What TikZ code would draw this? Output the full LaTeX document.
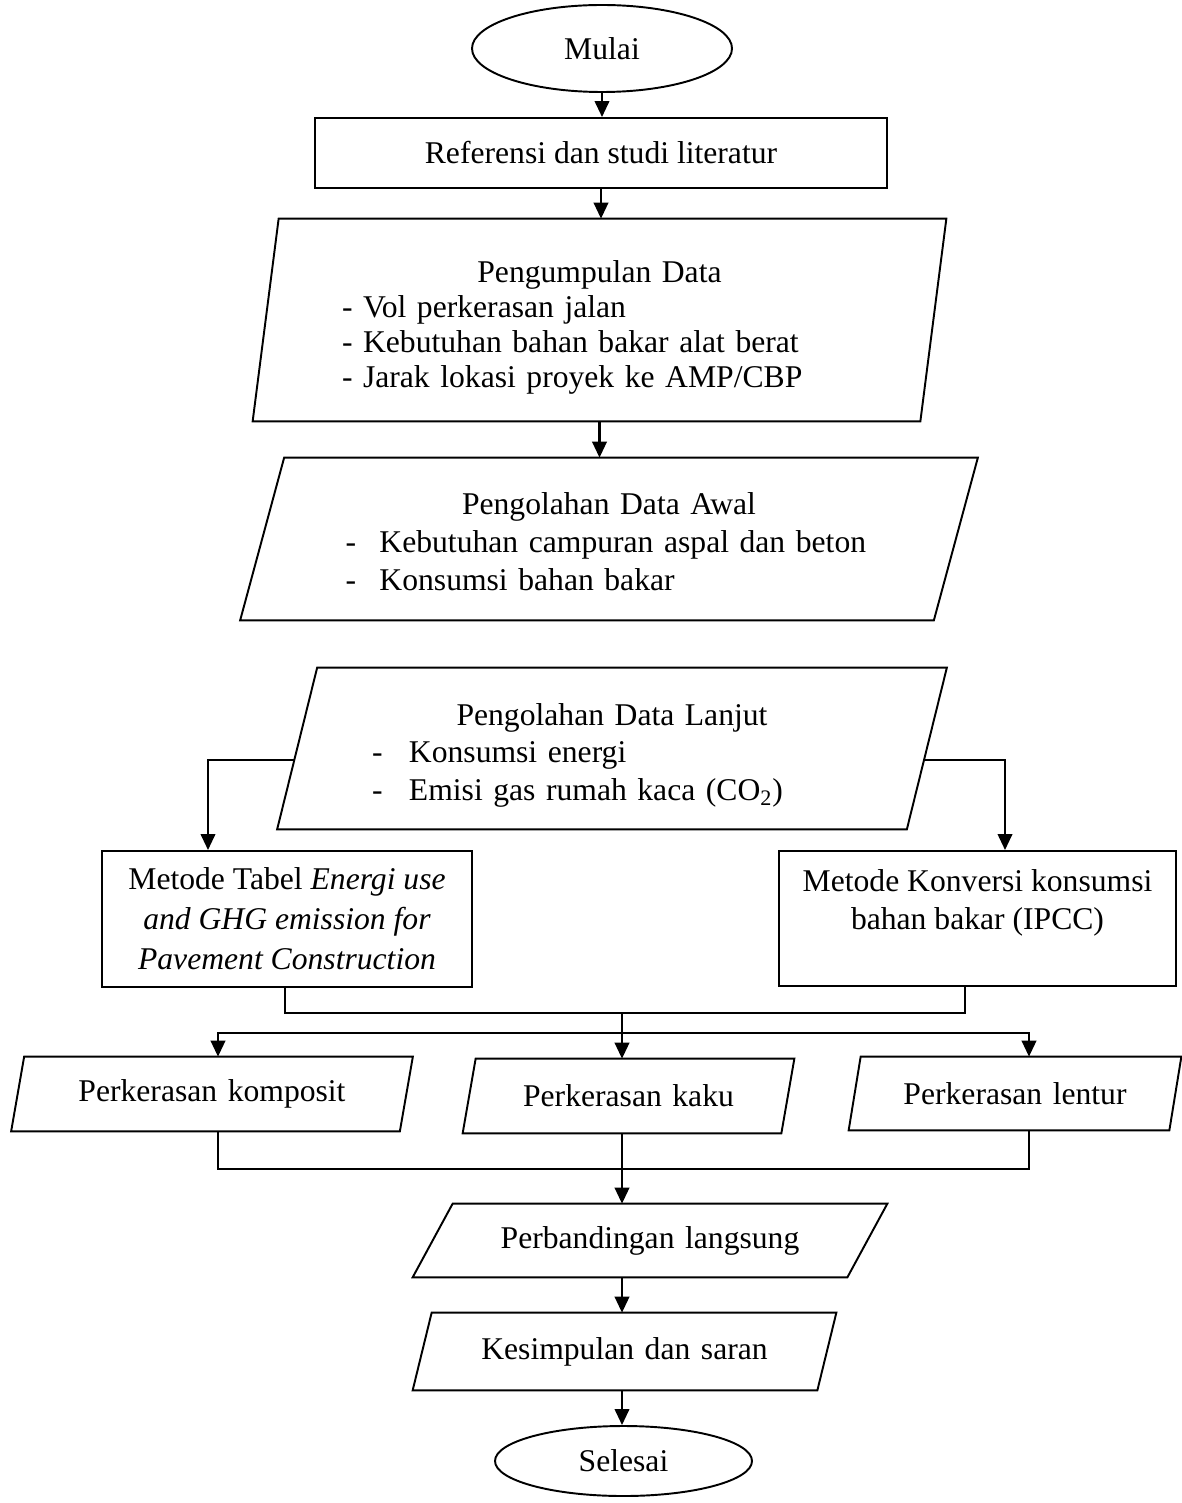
\documentclass[tikz,border=0pt]{standalone}
\usepackage{fontspec}
\setmainfont{Liberation Serif}
\usepackage{tikz}
\usetikzlibrary{arrows.meta, shapes.geometric}
\newcommand{\bodyfont}{\fontsize{18}{21.5}\selectfont}
\tikzset{
  terminal/.style={ellipse, draw, line width=1.1pt, inner sep=0pt, font=\bodyfont},
  block/.style={rectangle, draw, line width=1.1pt, align=center,
    inner sep=0pt, font=\bodyfont},
  para/.style={rectangle, inner sep=0pt, align=center, font=\bodyfont},
  flowline/.style={line width=1.1pt},
  arrowline/.style={-{Triangle[length=0.32cm, width=0.29cm]}, line width=1.3pt},
}
% slanted outline round a (text) node, #2 = half of the slant
\newcommand{\slantbox}[2]{%
  \draw[flowline] ([xshift=-#2]#1.south west) -- ([xshift=#2]#1.north west) --
    ([xshift=#2]#1.north east) -- ([xshift=-#2]#1.south east) -- cycle;}
\newcommand{\listdash}[2]{\hspace*{#1}\makebox[#2][l]{-}}

\begin{document}
\begin{tikzpicture}
  \useasboundingbox (0,0) rectangle (23.62,-30.06);
  % start and literature
  \node[terminal, minimum width=5.2cm, minimum height=1.74cm] (mulai)
    at (12.04,-0.97) {Mulai};
  \node[block, minimum width=11.45cm, minimum height=1.4cm] (ref)
    at (12.02,-3.06) {Referensi dan studi literatur};
  % data collection
  \node[para, align=left, text width=13.34cm, minimum height=4.04cm,
        text height=0.73cm, font=\fontsize{18}{20}\selectfont] (kumpul)
    at (11.99,-6.40)
    {\makebox[\linewidth]{Pengumpulan Data}\\
     \hspace*{1.52cm}- Vol perkerasan jalan\\
     \hspace*{1.52cm}- Kebutuhan bahan bakar alat berat\\
     \hspace*{1.52cm}- Jarak lokasi proyek ke AMP/CBP};
  \slantbox{kumpul}{0.26cm}
  % processing
  \node[para, align=left, text width=13.86cm, minimum height=3.24cm,
        text height=0.55cm] (awal) at (12.18,-10.78)
    {\makebox[\linewidth]{Pengolahan Data Awal}\\
     \listdash{1.66cm}{0.68cm}Kebutuhan campuran aspal dan beton\\
     \listdash{1.66cm}{0.68cm}Konsumsi bahan bakar};
  \slantbox{awal}{0.44cm}
  \node[para, align=left, text width=12.58cm, minimum height=3.22cm,
        text height=0.71cm] (lanjut) at (12.24,-14.97)
    {\makebox[\linewidth]{Pengolahan Data Lanjut}\\
     \listdash{1.49cm}{0.74cm}Konsumsi energi\\
     \listdash{1.49cm}{0.74cm}Emisi gas rumah kaca (CO\textsubscript{2})};
  \slantbox{lanjut}{0.40cm}
  % methods
  \node[block, minimum width=7.4cm, minimum height=2.72cm,
        font=\fontsize{18}{22.8}\selectfont] (tabel) at (5.74,-18.38)
    {Metode Tabel \textit{Energi use}\\ \textit{and GHG emission for}\\
     \textit{Pavement Construction}};
  \node[block, minimum width=7.94cm, minimum height=2.7cm,
        font=\fontsize{18}{21.6}\selectfont] (konversi) at (19.55,-18.37)
    {Metode Konversi konsumsi\\ bahan bakar (IPCC)\\ \mbox{}};
  % pavement types
  \node[para, text width=7.76cm, minimum height=1.48cm] (komposit)
    at (4.24,-21.88) {Perkerasan komposit};
  \slantbox{komposit}{0.13cm}
  \node[para, text width=6.36cm, minimum height=1.48cm] (kaku)
    at (12.57,-21.92) {Perkerasan kaku};
  \slantbox{kaku}{0.13cm}
  \node[para, text width=6.4cm, minimum height=1.46cm] (lentur)
    at (20.30,-21.87) {Perkerasan lentur};
  \slantbox{lentur}{0.12cm}
  % comparison and end
  \node[para, text width=8.68cm, minimum height=1.46cm] (banding)
    at (13.0,-24.81) {Perbandingan langsung};
  \slantbox{banding}{0.40cm}
  \node[para, text width=8.08cm, minimum height=1.54cm] (simpul)
    at (12.49,-27.03) {Kesimpulan dan saran};
  \slantbox{simpul}{0.19cm}
  \node[terminal, minimum width=5.14cm, minimum height=1.4cm] (selesai)
    at (12.47,-29.22) {Selesai};

  % connectors
  \coordinate (gabung) at (12.44,-20.24);
  \coordinate (cabang) at (12.44,-20.66);
  \draw[arrowline] (mulai.south) -- (mulai.south |- ref.north);
  \draw[arrowline] (ref.south) -- (ref.south |- kumpul.north);
  \draw[arrowline] (kumpul.south) -- (kumpul.south |- awal.north);
  \draw[arrowline] ([xshift=-0.06cm, yshift=-0.23cm]lanjut.west)
    -| ([xshift=-1.58cm]tabel.north);
  \draw[arrowline] ([xshift=-0.06cm, yshift=-0.23cm]lanjut.east)
    -| ([xshift=0.55cm]konversi.north);
  \draw[flowline] ([xshift=-0.04cm]tabel.south) -- ++(0,-0.5)
    -| ([xshift=-0.25cm]konversi.south);
  \draw[arrowline] (gabung) -- (gabung |- kaku.north);
  \draw[arrowline] (cabang) -| ([xshift=0.12cm]komposit.north);
  \draw[arrowline] (cabang) -| ([xshift=0.28cm]lentur.north);
  \draw[flowline] ([xshift=0.12cm]komposit.south) -- ++(0,-0.76)
    -| ([xshift=0.28cm]lentur.south);
  \draw[arrowline] (kaku.south -| gabung) -- (gabung |- banding.north);
  \draw[arrowline] (banding.south -| gabung) -- (gabung |- simpul.north);
  \draw[arrowline] (simpul.south -| gabung) -- (gabung |- selesai.north);
\end{tikzpicture}
\end{document}
